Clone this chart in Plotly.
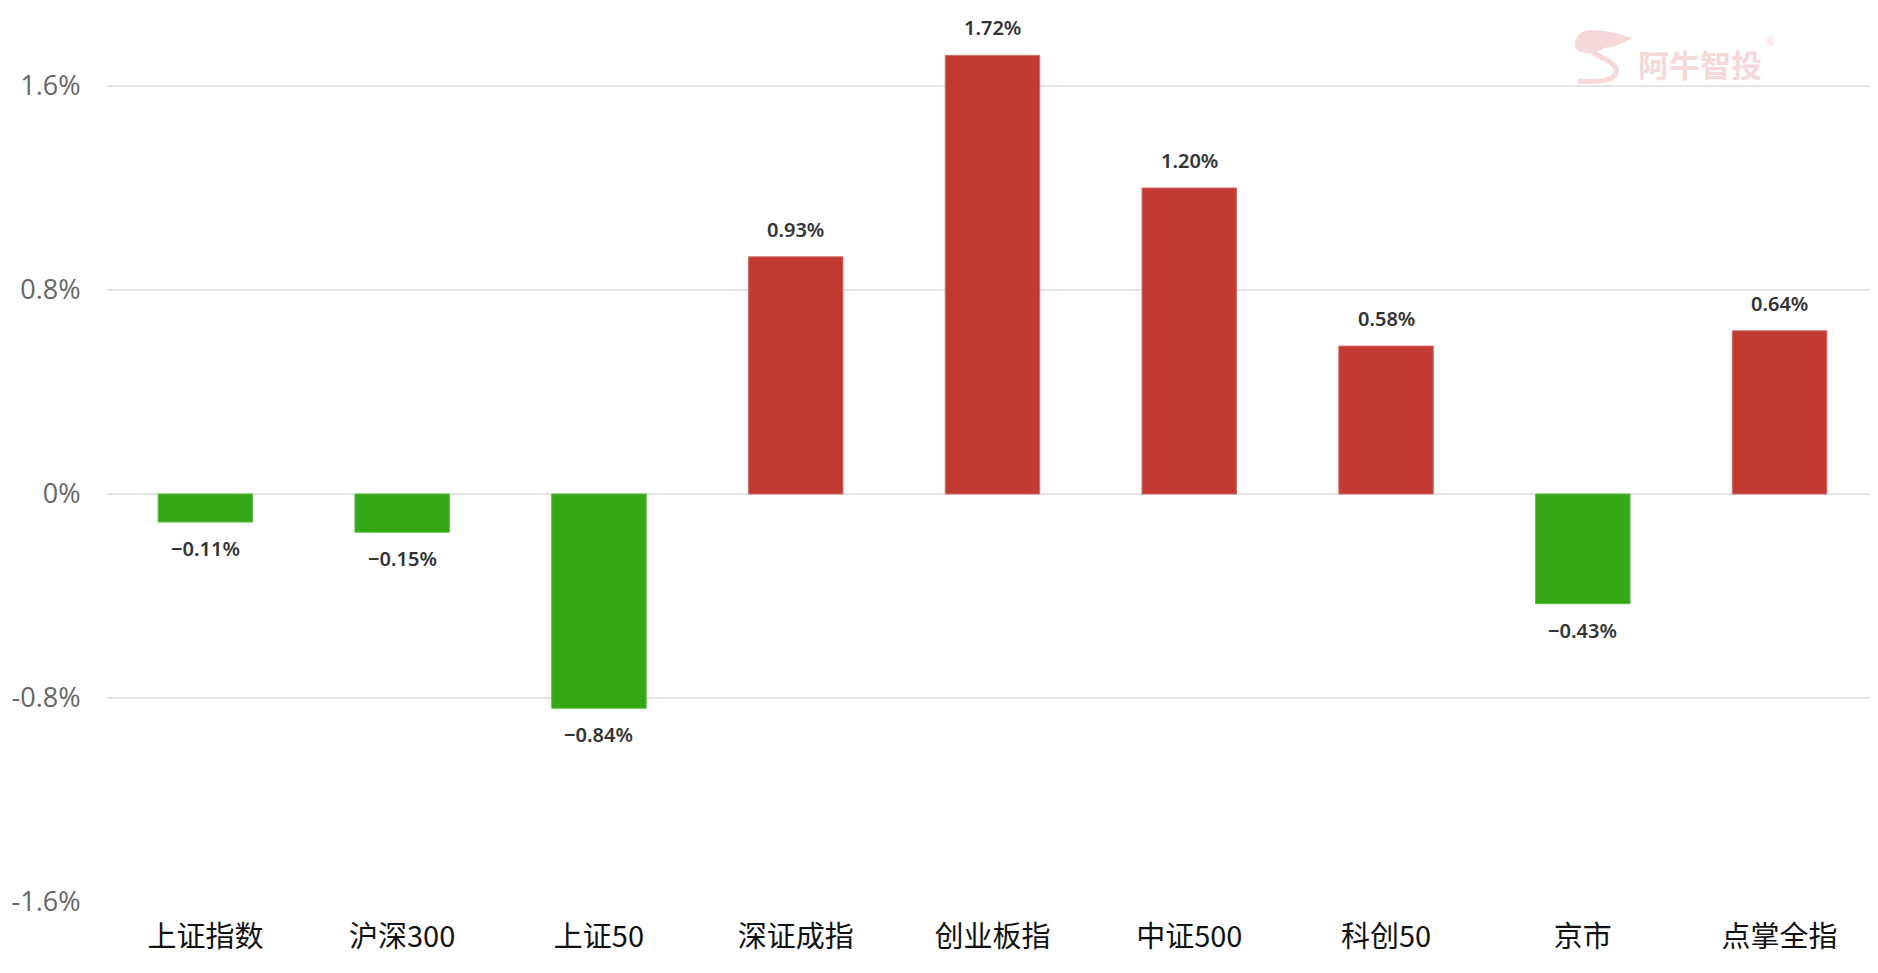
import plotly.graph_objects as go

categories = ["上证指数", "沪深300", "上证50", "深证成指", "创业板指", "中证500", "科创50", "京市", "点掌全指"]
changes = [-0.11, -0.15, -0.84, 0.93, 1.72, 1.20, 0.58, -0.43, 0.64]
tick_vals = [-1.6, -0.8, 0, 0.8, 1.6]
tick_text = ["-1.6%", "-0.8%", "0%", "0.8%", "1.6%"]

RED = "#c13b33"
GREEN = "#34a814"
colors = [RED if v >= 0 else GREEN for v in changes]
line_colors = ["#d36a63" if v >= 0 else "#5cbc44" for v in changes]

# page body has an 8px margin; the figure is sized to fill the remaining window
W, H = 1870, 965
ML, MR, MT, MB = 99, 0, 2, 71
# plot area in screen pixels
PL, PR, PT, PB = 107, 1878, 10, 902

def px(x):
    return (x - PL) / (PR - PL)

def py(y):
    return (PB - y) / (PB - PT)

fig = go.Figure()
fig.add_trace(go.Bar(
    x=categories, y=changes,
    marker=dict(color=colors, line=dict(color=line_colors, width=1)),
    width=0.48,
    hoverinfo="skip",
))

def fmt(v):
    s = f"{abs(v):.2f}%"
    return ("\u2212" + s) if v < 0 else s

for c, v in zip(categories, changes):
    fig.add_annotation(
        x=c, y=v, text=fmt(v),
        showarrow=False,
        yanchor="bottom" if v >= 0 else "top",
        yshift=12 if v >= 0 else -11,
        font=dict(family="Noto Sans, Open Sans, sans-serif", size=20, color="#333333", weight=600),
    )

# watermark
WM = "#f6d8d8"
fig.add_annotation(
    xref="paper", yref="paper", x=px(1700), y=py(63), xanchor="center", yanchor="middle",
    text="<b>阿牛智投</b>", showarrow=False,
    font=dict(family="Noto Sans CJK SC", size=31, color=WM),
)
fig.add_annotation(
    xref="paper", yref="paper", x=px(1770), y=py(41), xanchor="center", yanchor="middle",
    text="®", showarrow=False,
    font=dict(family="Noto Sans", size=12, color=WM),
)

head = (f"M {px(1575):.5f},{py(44):.5f} "
        f"Q {px(1576):.5f},{py(29):.5f} {px(1595):.5f},{py(30):.5f} "
        f"Q {px(1612):.5f},{py(31):.5f} {px(1632):.5f},{py(38):.5f} "
        f"Q {px(1618):.5f},{py(47):.5f} {px(1604):.5f},{py(48):.5f} "
        f"Q {px(1596):.5f},{py(54):.5f} {px(1585):.5f},{py(53):.5f} "
        f"Q {px(1574):.5f},{py(51):.5f} {px(1575):.5f},{py(44):.5f} Z")
fig.add_shape(type="path", xref="paper", yref="paper", path=head,
              fillcolor=WM, line=dict(width=0), layer="below")
neck = (f"M {px(1592):.5f},{py(52):.5f} "
        f"L {px(1610):.5f},{py(62):.5f} "
        f"Q {px(1622):.5f},{py(70):.5f} {px(1612):.5f},{py(78):.5f} "
        f"Q {px(1600):.5f},{py(83):.5f} {px(1578):.5f},{py(81):.5f}")
fig.add_shape(type="path", xref="paper", yref="paper", path=neck,
              line=dict(color=WM, width=5), layer="below")

fig.update_layout(
    width=W, height=H,
    margin=dict(l=ML, r=MR, t=MT, b=MB),
    plot_bgcolor="white", paper_bgcolor="white",
    showlegend=False,
    bargap=0.52,
    xaxis=dict(
        type="category", automargin=False,
        showgrid=False, zeroline=False, showline=False,
        ticks="outside", ticklen=9, tickcolor="rgba(0,0,0,0)",
        tickfont=dict(family="Noto Sans CJK SC", size=29, color="#111111"),
    ),
    yaxis=dict(
        range=[-1.6, 1.898], automargin=False,
        tickvals=tick_vals, ticktext=tick_text,
        showgrid=True, gridcolor="#e4e4e4", gridwidth=1.5,
        zeroline=True, zerolinecolor="#e4e4e4", zerolinewidth=1.5,
        showline=False,
        ticks="outside", ticklen=20, tickcolor="rgba(0,0,0,0)",
        tickfont=dict(family="Open Sans, Noto Sans, sans-serif", size=27, color="#666666"),
    ),
)

fig.write_html("out.html")
